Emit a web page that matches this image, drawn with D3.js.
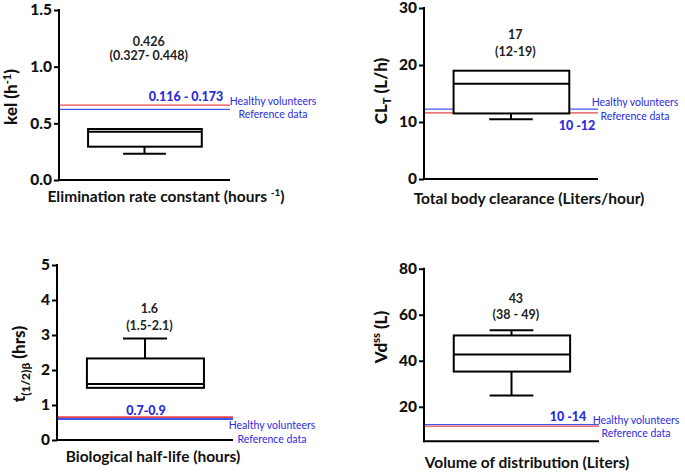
<!DOCTYPE html>
<html><head><meta charset="utf-8">
<script src="https://cdn.jsdelivr.net/npm/d3@7"></script>
<style>
body{margin:0;background:#fff;}
svg{display:block;font-family:Lato, "Open Sans", sans-serif;}
</style></head>
<body>
<svg id="chart" width="685" height="474"></svg>
<script>
// ---- data ----
const xTitles = ["Elimination rate constant (hours ", "Total body clearance (Liters/hour)", "Biological half-life (hours)", "Volume of distribution (Liters)"];
const yDomains = [[0, 1.5], [0, 30], [0, 5], [5, 80]];
const yTicks = [[0, 0.5, 1.0, 1.5], [0, 10, 20, 30], [0, 1, 2, 3, 4, 5], [20, 40, 60, 80]];
const tickFormats = [".1f", "d", "d", "d"];
const whiskerLow = [0.232, 10.5, 1.49, 24.9];
const q1 = [0.294, 11.5, 1.49, 35.3];
const median = [0.426, 16.7, 1.6, 42.7];
const q3 = [0.45, 19.0, 2.33, 51.0];
const whiskerHigh = [0.45, 19.0, 2.9, 53.3];
const healthyLine = [0.66, 11.6, 0.65, 11.6];     // red
const referenceLine = [0.624, 12.25, 0.6, 12.3];  // blue
const medianLabels = ["0.426", "17", "1.6", "43"];
const rangeLabels = ["(0.327- 0.448)", "(12-19)", "(1.5-2.1)", "(38 - 49)"];
const refRangeLabels = ["0.116 - 0.173", "10 -12", "0.7-0.9", "10 -14"];
const legendLabels = ["Healthy volunteers", "Reference data"];

// ---- layout ----
const layout = [
  {ax: 59, x1: 230, top: 10, bottom: 180, ylx: 17, yly: 97, xly: 202, xlx: 166,
   medY: 46, rngY: 60, refX: 186, refY: 101, legX: 273, legY1: 105, legY2: 118},
  {ax: 424, x1: 598, top: 8, bottom: 179, ylx: 387, yly: 91, xly: 204, xlx: 529,
   medY: 39, rngY: 56, refX: 577, refY: 130, legX: 635, legY1: 106, legY2: 120},
  {ax: 57, x1: 233, top: 265, bottom: 440, ylx: 25, yly: 364, xly: 462, xlx: 153,
   medY: 313, rngY: 330, refX: 146, refY: 415, legX: 272, legY1: 429, legY2: 443},
  {ax: 424, x1: 599, top: 268.7, bottom: 441.3, ylx: 387, yly: 337, xly: 468, xlx: 527,
   medY: 303, rngY: 319, refX: 568, refY: 421, legX: 636, legY1: 424, legY2: 437}
];

const svg = d3.select("#chart");
const RED = "#e5464b", BLUE = "#4455ee", BLUETXT = "#2b2be0";

layout.forEach((L, i) => {
  const g = svg.append("g");
  const y = d3.scaleLinear().domain(yDomains[i]).range([L.bottom, L.top]);
  const x = d3.scaleLinear().domain([0, 1]).range([L.ax, L.x1]);

  // reference lines
  g.append("line").attr("x1", x(0)).attr("x2", x(1))
    .attr("y1", y(healthyLine[i])).attr("y2", y(healthyLine[i]))
    .attr("stroke", RED).attr("stroke-width", i === 2 ? 2 : 1.2);
  g.append("line").attr("x1", x(0)).attr("x2", x(1))
    .attr("y1", y(referenceLine[i])).attr("y2", y(referenceLine[i]))
    .attr("stroke", BLUE).attr("stroke-width", i === 2 ? 2 : 1.2);

  // whiskers
  const cx = x(0.5);
  g.append("line").attr("x1", cx).attr("x2", cx).attr("y1", y(whiskerLow[i])).attr("y2", y(q1[i]))
    .attr("stroke", "#000").attr("stroke-width", 2);
  g.append("line").attr("x1", cx).attr("x2", cx).attr("y1", y(whiskerHigh[i])).attr("y2", y(q3[i]))
    .attr("stroke", "#000").attr("stroke-width", 2);
  [whiskerLow[i], whiskerHigh[i]].forEach(v => {
    if (v === q1[i] || v === q3[i]) return;
    g.append("line").attr("x1", x(0.375)).attr("x2", x(0.625)).attr("y1", y(v)).attr("y2", y(v))
      .attr("stroke", "#000").attr("stroke-width", 2);
  });
  // box
  g.append("rect").attr("x", x(0.17)).attr("width", x(0.835) - x(0.17))
    .attr("y", y(q3[i])).attr("height", y(q1[i]) - y(q3[i]))
    .attr("fill", i === 0 ? "none" : "#fff").attr("stroke", "#000").attr("stroke-width", 2);
  g.append("line").attr("x1", x(0.17)).attr("x2", x(0.835)).attr("y1", y(median[i])).attr("y2", y(median[i]))
    .attr("stroke", "#000").attr("stroke-width", 2);

  // axes
  const yAxis = d3.axisLeft(y).tickValues(yTicks[i]).tickFormat(d3.format(tickFormats[i])).tickSize(5).tickPadding(2);
  const ya = g.append("g").attr("transform", `translate(${L.ax},0)`).call(yAxis);
  ya.select(".domain").remove();
  ya.selectAll(".tick line").attr("stroke", "#000").attr("stroke-width", 2);
  ya.selectAll(".tick text").attr("font-size", 15.5).attr("font-weight", 900).attr("fill", "#111")
    .attr("font-family", "Lato, sans-serif");
  g.append("line").attr("x1", L.ax).attr("x2", L.ax).attr("y1", L.top - 1).attr("y2", L.bottom + 1)
    .attr("stroke", "#000").attr("stroke-width", 2);
  g.append("line").attr("x1", L.ax - 1).attr("x2", L.x1).attr("y1", L.bottom).attr("y2", L.bottom)
    .attr("stroke", "#000").attr("stroke-width", 2);

  // annotations
  g.append("text").attr("x", x(0.525)).attr("y", L.medY).attr("text-anchor", "middle")
    .attr("font-size", 12.5).attr("font-weight", 700).attr("fill", "#222").text(medianLabels[i]);
  g.append("text").attr("x", x(0.525)).attr("y", L.rngY).attr("text-anchor", "middle")
    .attr("font-size", 12.5).attr("font-weight", 700).attr("fill", "#222").text(rangeLabels[i]);
  g.append("text").attr("x", L.refX).attr("y", L.refY).attr("text-anchor", "middle")
    .attr("font-size", 12.5).attr("font-weight", 900).attr("fill", BLUETXT).text(refRangeLabels[i]);
  g.append("text").attr("x", L.legX).attr("y", L.legY1).attr("text-anchor", "middle")
    .attr("font-size", 10.5).attr("fill", BLUETXT).text(legendLabels[0]);
  g.append("text").attr("x", L.legX).attr("y", L.legY2).attr("text-anchor", "middle")
    .attr("font-size", 10.5).attr("fill", BLUETXT).text(legendLabels[1]);

  // x title
  const xt = g.append("text").attr("x", L.xlx).attr("y", L.xly).attr("text-anchor", "middle")
    .attr("font-size", 15.5).attr("font-weight", 700).attr("fill", "#111");
  xt.append("tspan").text(xTitles[i]);
  if (i === 0) {
    xt.append("tspan").attr("dy", -6).attr("font-size", 10).text("-1");
    xt.append("tspan").attr("dy", 6).text(")");
  }

  // y title
  const yt = g.append("text").attr("transform", `translate(${L.ylx},${L.yly}) rotate(-90)`)
    .attr("text-anchor", "middle").attr("font-size", 17).attr("font-weight", 900).attr("fill", "#111");
  if (i === 0) {
    yt.append("tspan").text("kel (h");
    yt.append("tspan").attr("dy", -6).attr("font-size", 11).text("-1");
    yt.append("tspan").attr("dy", 6).text(")");
  } else if (i === 1) {
    yt.append("tspan").text("CL");
    yt.append("tspan").attr("dy", 4).attr("font-size", 11).text("T");
    yt.append("tspan").attr("dy", -4).text(" (L/h)");
  } else if (i === 2) {
    yt.append("tspan").text("t");
    yt.append("tspan").attr("dy", 5).attr("font-size", 12).text("(1/2)β");
    yt.append("tspan").attr("dy", -5).text(" (hrs)");
  } else {
    yt.append("tspan").text("Vd");
    yt.append("tspan").attr("dy", -7).attr("font-size", 11).text("ss");
    yt.append("tspan").attr("dy", 7).text(" (L)");
  }
});
</script>
</body></html>
